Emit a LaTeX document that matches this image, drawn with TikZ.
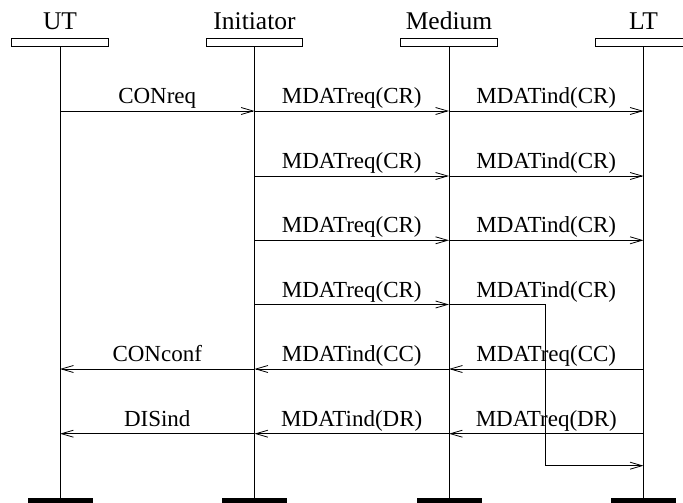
\documentclass[tikz,border=0pt]{standalone}
\usepackage{fontspec}
\setmainfont{Liberation Serif}
\usetikzlibrary{arrows.meta}
\begin{document}
\begin{tikzpicture}[x=1pt,y=-1pt,
  hdr/.style={font=\fontsize{25.5}{30}\selectfont, anchor=base, inner sep=0pt},
  lbl/.style={font=\fontsize{23}{27}\selectfont, anchor=base, inner sep=0pt},
  headbox/.style={draw=black, line width=0.8pt, minimum width=96.5pt, minimum height=7.5pt, inner sep=0pt, anchor=north},
  endbar/.style={fill=black, draw=none, minimum width=65pt, minimum height=8pt, inner sep=0pt, anchor=north},
  life/.style={line width=0.8pt},
  msg/.style={line width=0.8pt, -{Straight Barb[length=12pt,width=7pt,line width=0.8pt]}}]
\useasboundingbox (0,0) rectangle (683,503);
\clip (0,0) rectangle (683,503);
% headers
\node[hdr] (tUT) at (60,30) {UT};
\node[hdr] (tIN) at (254.5,30) {Initiator};
\node[hdr] (tME) at (449,30) {Medium};
\node[hdr] (tLT) at (643.5,30) {LT};
\node[headbox] (bUT) at (60,38.2) {};
\node[headbox] (bIN) at (254.5,38.2) {};
\node[headbox] (bME) at (449,38.2) {};
\node[headbox] (bLT) at (643.5,38.2) {};
% end bars
\node[endbar] (eUT) at (60,497.8) {};
\node[endbar] (eIN) at (254.5,497.8) {};
\node[endbar] (eME) at (449,497.8) {};
\node[endbar] (eLT) at (643.5,497.8) {};
% lifelines
\draw[life] (bUT.south) -- (eUT.north);
\draw[life] (bIN.south) -- (eIN.north);
\draw[life] (bME.south) -- (eME.north);
\draw[life] (bLT.south) -- (eLT.north);
% message rows
\foreach \r/\y in {1/111,2/176,3/240.3,4/304.5,5/369,6/433.7,7/465.7}{
  \coordinate (u\r) at (60,\y);
  \coordinate (i\r) at (254.5,\y);
  \coordinate (m\r) at (449,\y);
  \coordinate (l\r) at (643.5,\y);
}
\coordinate (k4) at (545.7,304.5);
\coordinate (k7) at (545.7,465.7);
% row 1
\draw[msg] (u1) -- (i1);
\draw[msg] (i1) -- (m1);
\draw[msg] (m1) -- (l1);
\node[lbl] (a1) at (157.25,103.5) {CONreq};
\node[lbl] (b1) at (351.75,103.5) {MDATreq(CR)};
\node[lbl] (c1) at (546.25,103.5) {MDATind(CR)};
% row 2
\draw[msg] (i2) -- (m2);
\draw[msg] (m2) -- (l2);
\node[lbl] (b2) at (351.75,168.5) {MDATreq(CR)};
\node[lbl] (c2) at (546.25,168.5) {MDATind(CR)};
% row 3
\draw[msg] (i3) -- (m3);
\draw[msg] (m3) -- (l3);
\node[lbl] (b3) at (351.75,232.8) {MDATreq(CR)};
\node[lbl] (c3) at (546.25,232.8) {MDATind(CR)};
% row 4 (delayed)
\draw[msg] (i4) -- (m4);
\draw[msg] (m4) -- (k4) -- (k7) -- (l7);
\node[lbl] (b4) at (351.75,297) {MDATreq(CR)};
\node[lbl] (c4) at (546.25,297) {MDATind(CR)};
% row 5
\draw[msg] (l5) -- (m5);
\draw[msg] (i5) -- (u5);
\draw[msg] (m5) -- (i5);
\node[lbl] (a5) at (157.25,361.5) {CONconf};
\node[lbl] (b5) at (351.75,361.5) {MDATind(CC)};
\node[lbl] (c5) at (546.25,361.5) {MDATreq(CC)};
% row 6
\draw[msg] (l6) -- (m6);
\draw[msg] (m6) -- (i6);
\draw[msg] (i6) -- (u6);
\node[lbl] (a6) at (157.25,426.2) {DISind};
\node[lbl] (b6) at (351.75,426.2) {MDATind(DR)};
\node[lbl] (c6) at (546.25,426.2) {MDATreq(DR)};
\end{tikzpicture}
\end{document}
